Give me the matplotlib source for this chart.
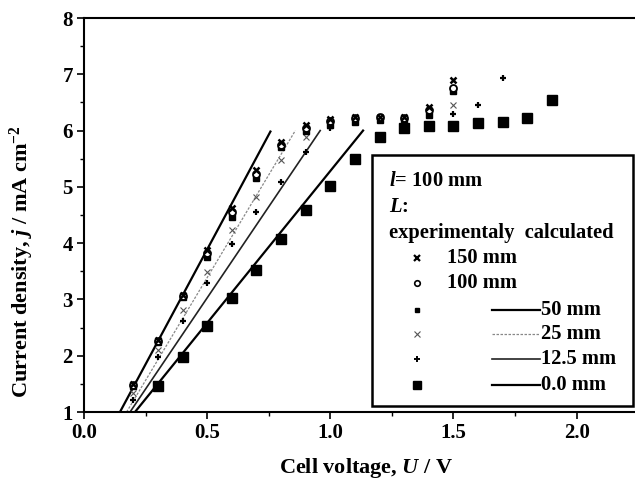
import matplotlib
matplotlib.use("Agg")
import matplotlib.pyplot as plt
from matplotlib.ticker import MultipleLocator
from matplotlib.patches import Rectangle
from matplotlib.lines import Line2D

plt.rcParams['font.family'] = ['Liberation Serif', 'DejaVu Serif']
plt.rcParams['font.weight'] = 'bold'
plt.rcParams['mathtext.fontset'] = 'custom'
plt.rcParams['mathtext.rm'] = 'Liberation Serif:bold'
plt.rcParams['mathtext.it'] = 'Liberation Serif:italic:bold'
plt.rcParams['mathtext.bf'] = 'Liberation Serif:bold'

# ---- data (experimental) ----
x_0mm = [0.3, 0.4, 0.5, 0.6, 0.7, 0.8, 0.9, 1.0, 1.1, 1.2, 1.3, 1.4, 1.5, 1.6, 1.7, 1.8, 1.9]
j_0mm = [1.47, 1.98, 2.53, 3.02, 3.53, 4.07, 4.58, 5.01, 5.49, 5.89, 6.05, 6.09, 6.09, 6.13, 6.16, 6.23, 6.55]

x_12mm = [0.2, 0.3, 0.4, 0.5, 0.6, 0.7, 0.8, 0.9, 1.0, 1.1, 1.2, 1.3, 1.4, 1.5, 1.6, 1.7]
j_12mm = [1.21, 1.97, 2.62, 3.30, 3.98, 4.55, 5.09, 5.62, 6.05, 6.15, 6.18, 6.20, 6.28, 6.29, 6.45, 6.93]

x_25mm = [0.2, 0.3, 0.4, 0.5, 0.6, 0.7, 0.8, 0.9, 1.0, 1.1, 1.2, 1.3, 1.4, 1.5]
j_25mm = [1.33, 2.10, 2.81, 3.49, 4.23, 4.82, 5.47, 5.89, 6.10, 6.18, 6.20, 6.22, 6.33, 6.46]

x_50mm = [0.2, 0.3, 0.4, 0.5, 0.6, 0.7, 0.8, 0.9, 1.0, 1.1, 1.2, 1.3, 1.4, 1.5]
j_50mm = [1.46, 2.25, 3.05, 3.76, 4.46, 5.15, 5.71, 6.00, 6.10, 6.15, 6.18, 6.20, 6.28, 6.70]

x_100mm = [0.2, 0.3, 0.4, 0.5, 0.6, 0.7, 0.8, 0.9, 1.0, 1.1, 1.2, 1.3, 1.4, 1.5]
j_100mm = [1.48, 2.27, 3.06, 3.82, 4.55, 5.22, 5.75, 6.05, 6.17, 6.22, 6.24, 6.22, 6.36, 6.76]

x_150mm = [0.2, 0.3, 0.4, 0.5, 0.6, 0.7, 0.8, 0.9, 1.0, 1.1, 1.2, 1.3, 1.4, 1.5]
j_150mm = [1.50, 2.28, 3.07, 3.87, 4.63, 5.30, 5.80, 6.10, 6.21, 6.25, 6.25, 6.24, 6.42, 6.90]

# ---- calculated lines (endpoints) ----
calc_j = [1.0, 6.0]
calc_50mm = [0.146, 0.759]
calc_25mm = [0.173, 0.858]
calc_12mm = [0.187, 0.959]
calc_0mm = [0.207, 1.133]

x_ticks = [0.0, 0.5, 1.0, 1.5, 2.0]
x_ticklabels = ['0.0', '0.5', '1.0', '1.5', '2.0']
y_ticks = [1, 2, 3, 4, 5, 6, 7, 8]

W, H = 635, 484
fig = plt.figure(figsize=(W / 100, H / 100), dpi=100)
x_max = 2.3
ax_left, ax_top, ax_bot = 84, 18, 412
px_per_v = 246.3
ax = fig.add_axes([ax_left / W, (H - ax_bot) / H, x_max * px_per_v / W, (ax_bot - ax_top) / H])
ax.set_xlim(0, x_max)
ax.set_ylim(1, 8)

# calculated lines
ax.plot(calc_50mm, calc_j, color='black', lw=1.6, solid_capstyle='butt')
ax.plot(calc_25mm, calc_j, color='#888888', lw=0.9, ls=(0, (2, 1.2)))
ax.plot(calc_12mm, calc_j, color='#222222', lw=1.2)
ax.plot(calc_0mm, calc_j, color='black', lw=1.6)

# experimental points
ax.plot(x_0mm, j_0mm, ls='none', marker='s', ms=6.5, color='black')
ax.plot(x_12mm, j_12mm, ls='none', marker='+', ms=5, mew=1.6, color='black')
ax.plot(x_25mm, j_25mm, ls='none', marker='x', ms=5, mew=0.8, color='#555555')
ax.plot(x_50mm, j_50mm, ls='none', marker='s', ms=5, color='black')
ax.plot(x_100mm, j_100mm, ls='none', marker='o', ms=5, mfc='white', mec='black', mew=1.3)
ax.plot(x_150mm, j_150mm, ls='none', marker='x', ms=5, mew=1.8, color='black')

ax.set_xticks(x_ticks)
ax.set_xticklabels(x_ticklabels)
ax.set_yticks(y_ticks)
ax.xaxis.set_minor_locator(MultipleLocator(0.25))
ax.yaxis.set_minor_locator(MultipleLocator(0.5))
ax.tick_params(which='major', direction='out', length=5, width=1.2, labelsize=15, pad=3)
ax.tick_params(which='minor', direction='out', length=3, width=1.0)
for lab in ax.get_xticklabels() + ax.get_yticklabels():
    lab.set_fontweight('bold')
for s in ax.spines.values():
    s.set_linewidth(1.5)

fig.text(366 / W, 1 - 468 / H, r'Cell voltage, $U$ / V', ha='center', va='center', fontsize=16, fontweight='bold')
fig.text(22 / W, 1 - 262 / H, r'Current density, $j$ / mA cm$^{-2}$', ha='center', va='center',
         rotation=90, fontsize=16, fontweight='bold')

# ---- legend box (manual) ----
def fx(px):
    return px / W

def fy(py):
    return 1 - py / H

box = Rectangle((fx(372), fy(406)), fx(633) - fx(372), fy(155) - fy(406), transform=fig.transFigure,
                fill=True, facecolor='white', edgecolor='black', lw=1.8, zorder=5)
fig.add_artist(box)
fs = 14.8
fig.text(fx(389), fy(181), r'$l$= 100 mm', fontsize=fs, fontweight='bold', va='center', zorder=6)
fig.text(fx(389), fy(207), r'$L$:', fontsize=fs, fontweight='bold', va='center', zorder=6)
fig.text(fx(389), fy(233), 'experimentaly  calculated', fontsize=fs, fontweight='bold', va='center', zorder=6)

rows = [
    (258, '150 mm', dict(marker='x', ms=4, mew=1.6, color='black'), None),
    (283, '100 mm', dict(marker='o', ms=4, mfc='white', mec='black', mew=1.2), None),
    (310, '50 mm', dict(marker='s', ms=3.5, color='black'), dict(color='black', lw=1.6)),
    (334, '25 mm', dict(marker='x', ms=4, mew=0.8, color='#555555'), dict(color='#888888', lw=0.9, ls=(0, (2, 1.2)))),
    (359, '12.5 mm', dict(marker='+', ms=4, mew=1.4, color='black'), dict(color='#222222', lw=1.2)),
    (385, '0.0 mm', dict(marker='s', ms=6, color='black'), dict(color='black', lw=1.6)),
]
for py, label, mk, ln in rows:
    fig.add_artist(Line2D([fx(417)], [fy(py)], ls='none', transform=fig.transFigure, zorder=6, **mk))
    if ln is None:
        fig.text(fx(447), fy(py), label, fontsize=fs, fontweight='bold', va='center', zorder=6)
    else:
        fig.add_artist(Line2D([fx(492), fx(540)], [fy(py), fy(py)], transform=fig.transFigure, zorder=6, **ln))
        fig.text(fx(541), fy(py), label, fontsize=fs, fontweight='bold', va='center', zorder=6)

fig.savefig('out.png', dpi=100)
